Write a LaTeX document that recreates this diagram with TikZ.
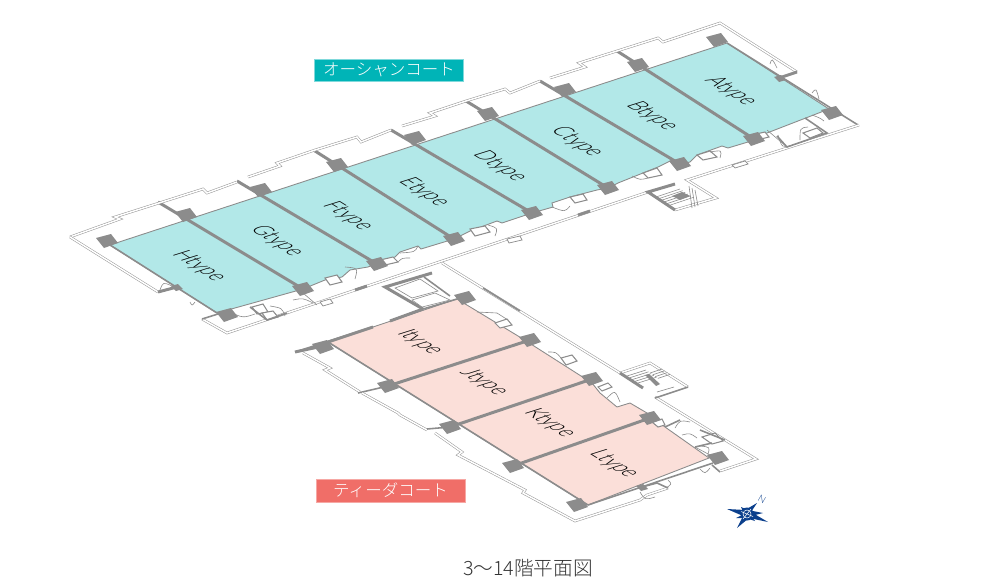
\documentclass[tikz,border=0pt]{standalone}
\usepackage{fontspec}
\setmainfont{Lato Light}
\newfontfamily\jpfont{Noto Sans CJK JP Light}
\usetikzlibrary{positioning}
\definecolor{roomblue}{HTML}{B2E8E8}
\definecolor{roompink}{HTML}{FBDFD9}
\definecolor{wallgray}{HTML}{8C8C8C}
\definecolor{tagteal}{HTML}{00B4B7}
\definecolor{tagred}{HTML}{F06E68}
\definecolor{compassblue}{HTML}{0B3F8C}
\tikzset{
	outline/.style={draw=wallgray!90,double=white,double distance=.85pt,line width=.3pt,line join=miter},
	wallmid/.style={draw=wallgray,line width=.9pt},
	wallheavy/.style={draw=wallgray,line width=1.7pt},
	thinline/.style={draw=wallgray,line width=.35pt},
	fixture/.style={draw=wallgray,line width=.6pt,fill=white},
	pillar/.style={fill=wallgray},
	roomtext/.style={transform shape,inner sep=0pt,text=black,font=\fontsize{12.5}{13}\selectfont},
	tagtext/.style={text=white,font=\jpfont\fontsize{9.4}{10}\selectfont}
}
\begin{document}
\begin{tikzpicture}[x=0.02cm,y=-0.02cm]
	\useasboundingbox (0,0) rectangle (1000,585);
	% upper wing
	\draw[fill=roomblue,draw=wallgray,line width=.5pt] (110,245) -- (727,43) -- (829,109) -- (767,133) -- (754,139) -- (748,142) -- (728,148) -- (722,146) -- (697,155) -- (690,162) -- (680,164) -- (672,160) -- (658,167) -- (618,183) -- (608,188) -- (597,190) -- (570,197) -- (552,203) -- (553,207) -- (532,213) -- (502,223) -- (497,221) -- (470,231) -- (454,239) -- (421,249) -- (418,246) -- (400,252) -- (395,257) -- (380,262) -- (368,267) -- (350,270) -- (342,277) -- (325,280) -- (303,289) -- (217,313) -- cycle;
	\draw[wallmid] (110,245) -- (217,313);
	\draw[wallmid] (727,43) -- (858,125);
	\foreach \xa/\ya/\xc/\yc in {158/202/303/289,237/181/377/264,315/151/454/239,391/130/532/213,466/101/608/188,540/81/680/164,617/51/754/139}
		\draw[wallheavy] (\xa,\ya) -- (\xc,\yc);
	\draw[outline] (70,237) -- (120,219) -- (115,217) -- (203,189) -- (207,193) -- (237,182);
	\draw[outline] (248,177) -- (280,166) -- (277,163) -- (315,150) -- (357,137) -- (361,142) -- (391,130);
	\draw[outline] (402,126) -- (435,116) -- (430,113) -- (466,101) -- (505,89) -- (510,93) -- (540,81);
	\draw[outline] (550,78) -- (585,67) -- (579,63) -- (617,51) -- (658,38) -- (663,42) -- (720,23) -- (797,72);
	\draw[outline] (70,237) -- (158,292);
	\draw[wallheavy] (158,292) -- (177,287);
	\draw[wallheavy] (797,72) -- (782,77);
	\draw[outline] (859,125) -- (687,180) -- (716,198) -- (675,210);
	\draw[outline] (648,192) -- (227,333) -- (202,319);
	\draw[wallmid] (202,319) -- (218,314);
	\draw[wallheavy] (578,215) -- (590,211);
	\draw[wallheavy] (355,290) -- (367,286);
	\draw[wallheavy] (675,184) -- (648,192) -- (675,210);
	\foreach \k in {0,...,5}
		\draw[thinline] ({656+2.6*\k},{197+1.7*\k}) -- ({680+2.6*\k},{189+1.7*\k});
	\foreach \k in {0,1,2}
		\draw[thinline] ({689+3*\k},{186+2*\k}) -- ({662+3*\k+30},{208-\k});
	% door boxes of the upper wing
	\foreach \xa/\ya/\xb/\yb/\xc/\yc/\xd/\yd in {325/278/337/275/342/282/330/285,380/260/393/257/398/262/385/265,470/229/485/226/490/232/475/236,570/197/583/194/587/200/575/203,643/173/657/168/662/175/648/178,697/155/710/151/717/157/703/160,252/307/263/304/268/312/257/314,262/313/273/311/278/317/267/320,803/133/817/128/823/133/810/138,756/134/765/132/769/137/761/139}
		\draw[fixture] (\xa,\ya) -- (\xb,\yb) -- (\xc,\yc) -- (\xd,\yd) -- cycle;
	% windows on the corridor
	\foreach \xa/\ya/\xb/\yb/\xc/\yc/\xd/\yd in {732/165/745/161/748/164/735/168,507/239/520/236/522/240/509/243,320/302/330/299/333/303/323/306}
		\draw[fixture,line width=.4pt] (\xa,\ya) -- (\xb,\yb) -- (\xc,\yc) -- (\xd,\yd) -- cycle;
	% end rooms
	\draw[wallmid] (805,118) -- (827,133) -- (787,147) -- (777,136);
	\draw[thinline] (767,130) -- (787,147);
	\draw[wallmid] (250,307) -- (267,320) -- (287,313);
	\draw[thinline] (303,293) -- (317,305);
	\draw[thinline] (293,300) .. controls (303,298) .. (313,303);
	% door swings
	\foreach \xa/\ya/\xb/\yb/\xc/\yc in {345/267/358/268/355/279,400/253/415/252/418/246,488/225/498/228/495/236,552/207/565/212/570/206,632/176/640/180/648/178,710/152/722/150/720/158,778/135/782/148/793/145,800/140/800/128/808/127,812/115/820/118/824/121,230/312/243/318/255/314,270/306/282/308/285/316,160/290/163/282/172/286,190/302/192/306/195/302,398/262/402/258/410/258,770/64/772/58/777/68,812/93/816/88/819/99}
		\draw[thinline] (\xa,\ya) .. controls (\xb,\yb) .. (\xc,\yc);
	% lower wing
	\draw[fill=roompink,draw=wallgray,line width=.5pt] (328,342) -- (457,299) -- (523,339) -- (592,383) -- (600,393) -- (617,407) -- (630,403) -- (647,413) -- (665,427) -- (709,458) -- (588,505) -- cycle;
	\draw[wallmid] (328,342) -- (588,505);
	\draw[wallmid] (295,352) -- (373,327);
	\draw[wallheavy] (295,352) -- (323,346);
	\draw[wallheavy] (328,342) -- (373,327);
	\draw[wallheavy] (390,321) -- (423,309);
	\draw[wallmid] (423,309) -- (457,299);
	\draw[wallmid] (588,505) -- (713,463);
	\foreach \xa/\ya/\xb/\yb in {388/386/530/340,450/427/592/379,513/466/650/418}
		\draw[wallheavy] (\xa,\ya) -- (\xb,\yb);
	\draw[outline] (303,353) -- (330,368) -- (325,370) -- (360,392);
	\draw[wallmid] (358,393) -- (388,386);
	\draw[outline] (362,393) -- (398,413) -- (400,415) -- (427,430);
	\draw[wallmid] (427,429) -- (450,427);
	\draw[outline] (435,433) -- (462,452) -- (458,455) -- (525,490) -- (523,493) -- (575,521) -- (640,500) -- (647,495) -- (668,488);
	\draw[wallmid] (642,487) -- (657,483) -- (668,488);
	\draw[outline] (442,263) -- (620,373);
	\draw[outline] (655,397) -- (756,459) -- (720,471);
	\draw[wallmid] (712,465) -- (720,472);
	\draw[wallmid] (483,288) -- (520,311);
	% stairs of the lower wing
	\draw[wallheavy] (432,273) -- (385,287) -- (423,309);
	\draw[thinline,fill=white] (395,288) -- (420,279) -- (438,291) -- (412,298) -- cycle;
	\draw[thinline,fill=white] (412,300) -- (435,293) -- (450,300) -- (422,307) -- cycle;
	\draw[wallmid] (424,277) -- (450,296);
	\draw[outline] (620,373) -- (650,363) -- (688,387);
	\draw[wallheavy] (620,373) -- (643,388);
	\draw[wallmid] (655,398) -- (688,387);
	\foreach \k in {0,...,4}
		\draw[thinline] ({627+2.6*\k},{376+1.8*\k}) -- ({646+2.6*\k},{370+1.8*\k});
	\foreach \k in {0,...,3}
		\draw[thinline] ({650+2.6*\k},{373+1.8*\k}) -- ({662+2.6*\k},{369+1.8*\k});
	\draw[thinline] (657,392) -- (674,387);
	\foreach \xa/\ya/\xb/\yb/\xc/\yc/\xd/\yd in {495/323/507/319/512/325/500/328,561/358/572/355/577/361/566/365,598/387/608/383/612/387/602/391,652/422/662/419/665/425/658/427,702/437/715/433/723/441/712/444}
		\draw[fixture] (\xa,\ya) -- (\xb,\yb) -- (\xc,\yc) -- (\xd,\yd) -- cycle;
	\draw[wallmid] (700,430) -- (725,440);
	\draw[wallmid] (665,427) -- (680,420);
	\draw[wallmid] (695,447) -- (712,443);
	\draw[thinline] (695,447) -- (710,455);
	\draw[thinline] (477,312) -- (497,313) -- (508,320);
	\foreach \xa/\ya/\xb/\yb/\xc/\yc in {607/398/615/390/620/402,682/435/690/433/697/438,700/446/710/447/708/454,675/428/680/420/690/422,548/352/556/352/561/358,640/492/645/500/655/497,668/480/672/484/666/488,700/469/705/474/710/468}
		\draw[thinline] (\xa,\ya) .. controls (\xb,\yb) .. (\xc,\yc);
	% pillars
	\foreach \x/\y in {107/241,186/215,261/190,337/165,415/138,488/114,565/90,638/65,717/40,832/113,754/139,680/164,608/188,532/213,454/239,377/264,303/289,227/315,465/298,530/340,592/379,650/418,718/458,323/347,388/386,450/427,513/466,577/505}
		\fill[pillar,shift={(\x,\y)}] (-11,-3) -- (4,-7) -- (11,2) -- (-3,7) -- cycle;
	\foreach \x/\y in {177/287,780/78,642/487}
		\fill[pillar,shift={(\x,\y)}] (-6,-1) -- (1,-3) -- (6,2) -- (-1,4) -- cycle;
	\fill[pillar] (672,196) -- (682,192) -- (690,196) -- (680,200) -- cycle;
	\fill[pillar] (645,375) -- (649,374) -- (660,384) -- (656,386) -- cycle;
	% room names
	\foreach \nm/\px/\py in {A/731/91,B/652/116,C/577/142,D/500/166,E/424/192,F/348/216,G/277/241,H/199/266,I/420/342,J/484/382,K/550/423,L/614/464}
		\node[roomtext,cm={.74,-.46,1.05,.33,(\px,\py)}] (type\nm) {\nm type};
	% tags and title
	\node[fill=tagteal,draw=tagteal!50,line width=.3pt,minimum width=150*.567pt,minimum height=22*.567pt,inner sep=0pt,tagtext] (oceantag) at (389,70) {オーシャンコート};
	\node[fill=tagred,draw=tagred!60,line width=.3pt,minimum width=150*.567pt,minimum height=23*.567pt,inner sep=0pt,tagtext] (tidatag) at (390.5,490.5) {ティーダコート};
	\node[text=black!80,font=\jpfont\fontsize{11.2}{12}\selectfont,inner sep=0pt] (floortitle) at (528,568) {3〜14階平面図};
	% compass
	\fill[compassblue] (727,509) -- (745,510) -- (757,503) -- (751,512) -- (768,522) -- (749,518) -- (737,528) -- (743,516) -- cycle;
	\fill[compassblue] (741,507) -- (748,510) -- (763,513) -- (751,516) -- (755,521) -- (746,518) -- (736,518) -- (744,514) -- cycle;
	\fill[compassblue] (747,514) circle (6.5);
	\draw[white,line width=.3pt] (747,514) circle (4);
	\draw[white,line width=.3pt] (741,511.5) -- (753,516.5) (751,509) -- (743,519);
	\node[text=compassblue,inner sep=0pt,font=\fontsize{5.5}{6}\selectfont,rotate=-30] (northmark) at (762,499) {N};
\end{tikzpicture}
\end{document}
